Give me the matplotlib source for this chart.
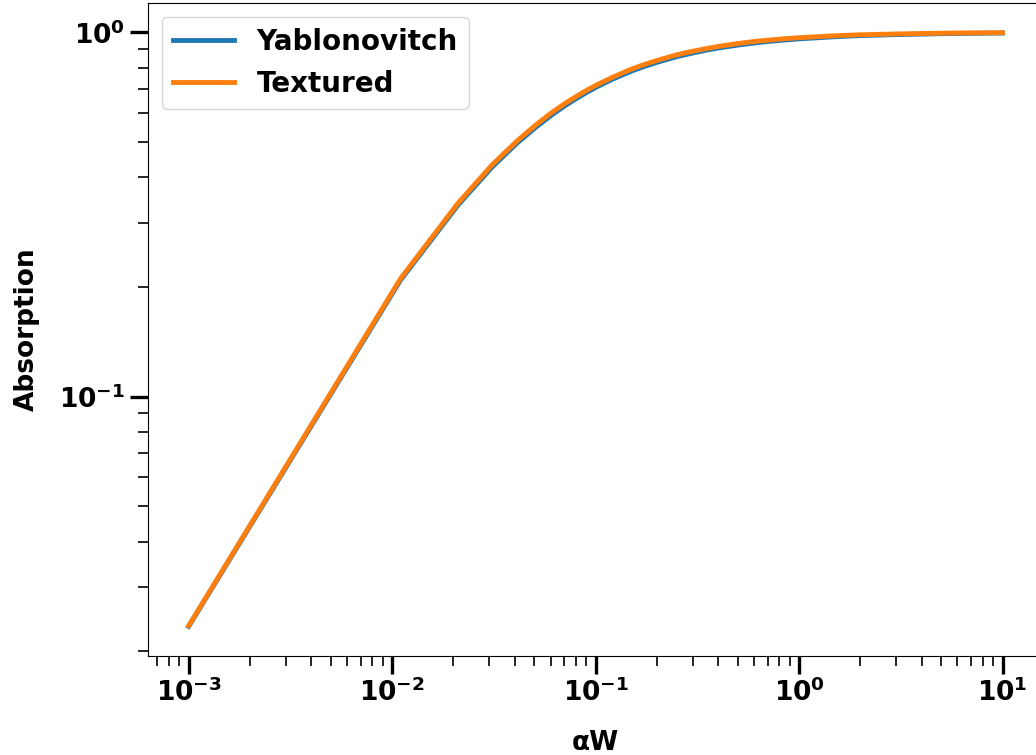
import numpy as np
import matplotlib
matplotlib.use('Agg')
import matplotlib.pyplot as plt

# values
alpha_w = [0.001, 0.011, 0.021, 0.031, 0.041, 0.051, 0.061, 0.071, 0.081,
           0.091, 0.101, 0.121, 0.151, 0.171, 0.201, 0.251, 0.301, 0.351,
           0.401, 0.501, 0.601, 0.701, 0.851, 1.001, 1.501, 2.001, 3.001,
           5.001, 7.001, 9.991]
yablonovitch = [0.0234, 0.209, 0.335, 0.427, 0.496, 0.550, 0.594, 0.630, 0.660,
                0.686, 0.708, 0.744, 0.784, 0.804, 0.828, 0.858, 0.878, 0.894,
                0.906, 0.923, 0.935, 0.944, 0.953, 0.960, 0.973, 0.980, 0.986,
                0.992, 0.994, 0.996]
textured = [0.0235, 0.211, 0.339, 0.433, 0.503, 0.558, 0.603, 0.639, 0.669,
            0.695, 0.717, 0.753, 0.794, 0.814, 0.838, 0.868, 0.888, 0.903,
            0.915, 0.932, 0.944, 0.952, 0.961, 0.967, 0.979, 0.985, 0.990,
            0.995, 0.997, 0.998]

plt.rcParams['font.weight'] = 'bold'
plt.rcParams['axes.labelweight'] = 'bold'
plt.rcParams['font.size'] = 19

fig = plt.figure(figsize=(10.36, 7.55), dpi=100)
# right part of the axes runs past the edge of the picture, as in the reference
ax = fig.add_axes([0.1429, 0.1311, 0.864, 0.8649])

ax.plot(alpha_w, yablonovitch, color='#1f77b4', linewidth=3.5, label='Yablonovitch')
ax.plot(alpha_w, textured, color='#ff7f0e', linewidth=3.5, label='Textured')

ax.set_xscale('log')
ax.set_yscale('log')
ax.set_xlabel('αW', labelpad=16)
ax.set_ylabel('Absorption', labelpad=14)

ax.tick_params(which='major', length=13, width=2.4, labelsize=19)
ax.tick_params(which='minor', length=7.5, width=1.2)

ax.legend(loc='upper left', fontsize=20, handlelength=2.2)

fig.savefig('out.png', dpi=100)
